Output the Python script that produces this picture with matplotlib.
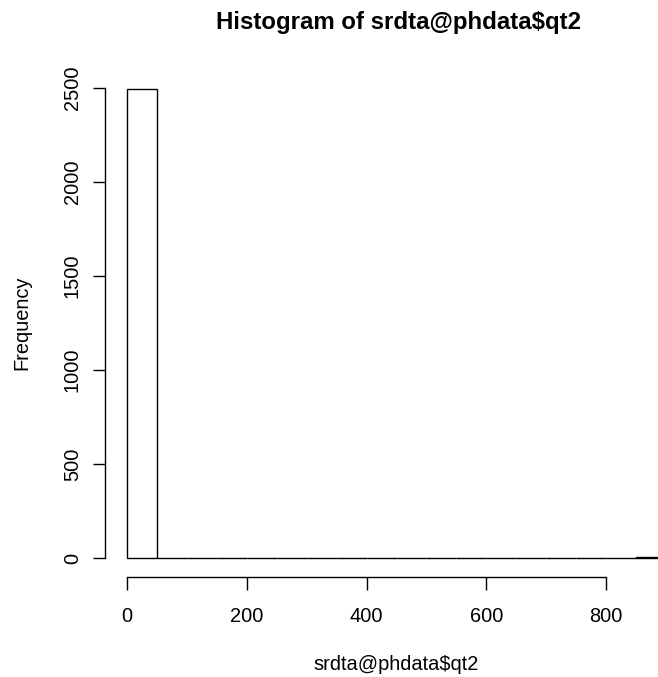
import matplotlib
matplotlib.use("Agg")
import matplotlib.pyplot as plt

plt.rcParams['font.family'] = ['Liberation Sans', 'DejaVu Sans']

# histogram bins (left edges, width 50) and counts
bin_left = [0, 50, 100, 150, 200, 250, 300, 350, 400, 450,
            500, 550, 600, 650, 700, 750, 800, 850]
counts = [2497, 0, 0, 0, 0, 0, 0, 0, 0, 0,
          0, 0, 0, 0, 0, 0, 0, 4]
bin_width = 50
x_ticks = [0, 200, 400, 600, 800]
y_ticks = [0, 500, 1000, 1500, 2000, 2500]

W, H = 658, 677
fig = plt.figure(figsize=(W / 100, H / 100), dpi=100)

# plot region in pixels (R style, data range extended by 4%)
left_px, right_px = 105.4, 687.6
top_px, bottom_px = 69.2, 576.8
ax = fig.add_axes([left_px / W, (H - bottom_px) / H,
                   (right_px - left_px) / W, (bottom_px - top_px) / H])

ax.bar(bin_left, counts, width=bin_width, align='edge',
       facecolor='white', edgecolor='black', linewidth=1.0)

ax.set_xlim(-36, 936)
ax.set_ylim(-100, 2600)

for s in ['top', 'right']:
    ax.spines[s].set_visible(False)
ax.spines['left'].set_bounds(0, 2500)
ax.spines['bottom'].set_bounds(0, 800)
ax.spines['left'].set_linewidth(1.0)
ax.spines['bottom'].set_linewidth(1.0)

ax.set_xticks(x_ticks)
ax.set_yticks(y_ticks)
ax.set_yticklabels([str(v) for v in y_ticks], rotation=90, va='center')
ax.tick_params(axis='x', length=9, width=1.0, pad=12.5, labelsize=14.4)
ax.tick_params(axis='y', length=9, width=1.0, pad=8, labelsize=14.4)

fig.text(399 / W, 1 - 23 / H, 'Histogram of srdta@phdata$qt2',
         ha='center', va='center', fontsize=17.3, fontweight='bold')
fig.text(396 / W, 1 - 665 / H, 'srdta@phdata$qt2',
         ha='center', va='center', fontsize=14.4)
fig.text(22 / W, 1 - 323 / H, 'Frequency', rotation=90,
         ha='center', va='center', fontsize=14.4)

fig.savefig('out.png', dpi=100)
